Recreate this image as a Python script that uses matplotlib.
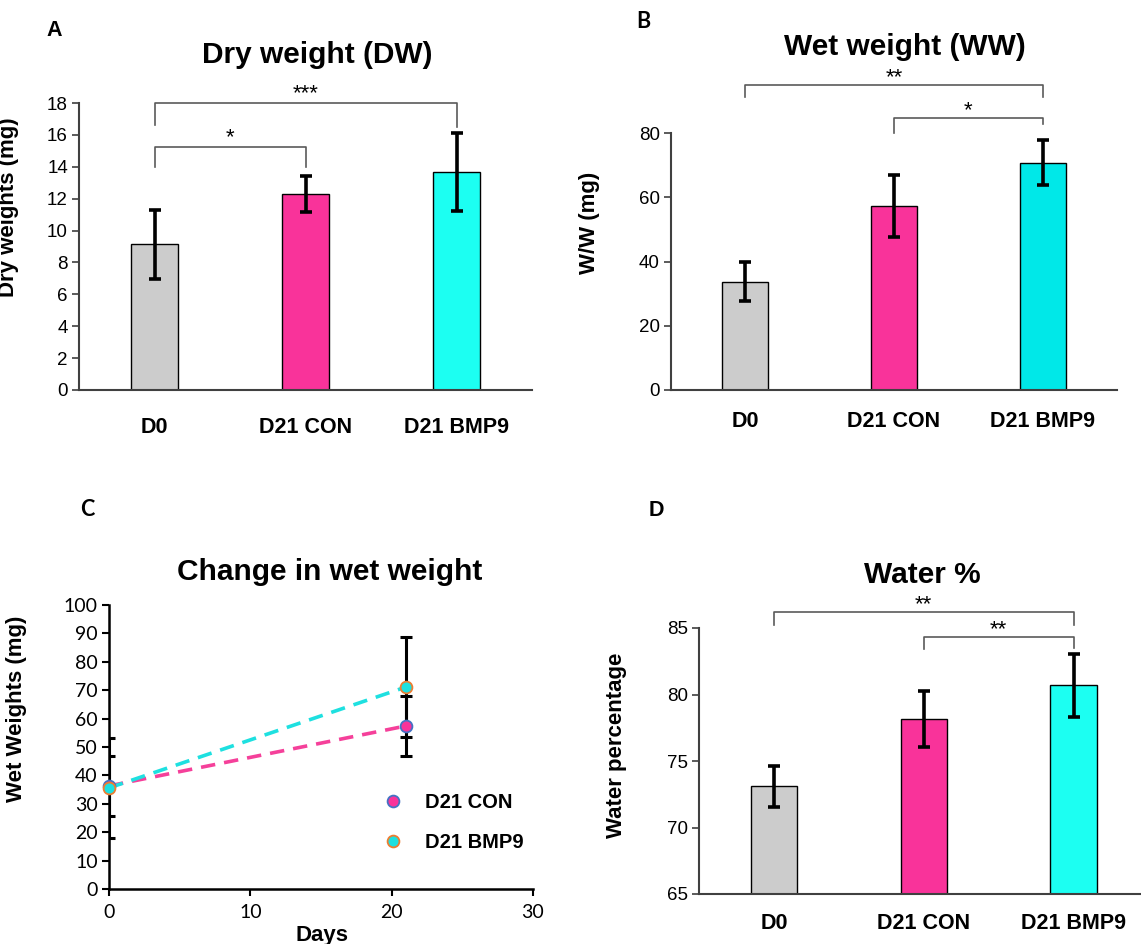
import numpy as np
import matplotlib.pyplot as plt
from matplotlib.lines import Line2D

plt.rcParams['font.family'] = ['Liberation Sans', 'DejaVu Sans']

# datos
groups = ["D0", "D21 CON", "D21 BMP9"]
bar_colors = ["#cccccc", "#f9339a", "#1cfff2"]
bar_colors_b = ["#cccccc", "#f9339a", "#00e8e8"]

dry_mean = [9.14, 12.31, 13.66]
dry_err = [2.18, 1.14, 2.45]

wet_mean = [33.7, 57.3, 70.7]
wet_err = [6.0, 9.7, 7.0]

water_mean = [73.09, 78.16, 80.68]
water_err = [1.54, 2.12, 2.36]

days = [0, 21]
con_wet = [36.3, 57.4]
con_sd = [10.5, 10.5]
bmp_wet = [35.6, 71.1]
bmp_sd = [17.6, 17.6]

W, H = 1141, 944
fig = plt.figure(figsize=(W / 100, H / 100), dpi=100)


def add_ax(left, right, top, bottom):
    return fig.add_axes([left / W, 1 - bottom / H, (right - left) / W, (bottom - top) / H])


def fx(px):
    return px / W


def fy(py):
    return 1 - py / H


def bar_panel(ax, mean, err, colors, ylim, yticks, pad):
    x = np.arange(len(groups))
    ax.bar(x, mean, width=0.31, color=colors, edgecolor="black", linewidth=1.0, zorder=2)
    ax.errorbar(x, mean, yerr=err, fmt="none", ecolor="black", elinewidth=2.6,
                capsize=4.2, capthick=2.6, zorder=3)
    ax.set_xlim(-0.5, 2.5)
    ax.set_ylim(*ylim)
    ax.set_yticks(yticks)
    ax.set_xticks(x)
    ax.set_xticklabels(groups, fontsize=15.5, fontweight="bold")
    ax.tick_params(axis="x", length=0, pad=pad)
    ax.tick_params(axis="y", labelsize=13.5, length=5, width=1.2, color="#404040", pad=3)
    for s in ["top", "right"]:
        ax.spines[s].set_visible(False)
    for s in ["left", "bottom"]:
        ax.spines[s].set_color("#404040")
        ax.spines[s].set_linewidth(1.5)


def bracket(ax, x1, x2, ytop, yl1, yl2, txt, ytxt):
    ax.plot([x1, x1, x2, x2], [yl1, ytop, ytop, yl2], color="#5a5a5a", lw=1.2,
            clip_on=False, zorder=4)
    ax.text((x1 + x2) / 2, ytxt, txt, ha="center", va="center", fontsize=16,
            clip_on=False)


# A - peso seco
axA = add_ax(79, 532, 103, 390)
bar_panel(axA, dry_mean, dry_err, bar_colors, (0, 18), range(0, 19, 2), 19.5)
bracket(axA, 0, 2, 18, 16.6, 16.5, "***", 18.6)
bracket(axA, 0, 1, 15.25, 14.0, 14.0, "*", 15.85)
axA.set_ylabel("Dry weights (mg)", fontsize=16, fontweight="bold")
axA.yaxis.set_label_coords(fx(19), fy(207), transform=fig.transFigure)

# B - peso humedo
axB = add_ax(671, 1117, 133, 390)
bar_panel(axB, wet_mean, wet_err, bar_colors_b, (0, 80), range(0, 81, 20), 15)
bracket(axB, 0, 2, 94.9, 91.2, 91.2, "**", 97.3)
bracket(axB, 1, 2, 84.7, 80.0, 82.8, "*", 86.8)
axB.set_ylabel("W/W (mg)", fontsize=16, fontweight="bold")
axB.yaxis.set_label_coords(fx(600), fy(223), transform=fig.transFigure)

# D - porcentaje de agua
axD = add_ax(699, 1141, 628, 894)
bar_panel(axD, water_mean, water_err, bar_colors, (65, 85), range(65, 86, 5), 14)
axD.set_xlim(-0.5, 2.45)
bracket(axD, 0, 2, 86.17, 85.25, 85.25, "**", 86.75)
bracket(axD, 1, 2, 84.3, 83.4, 83.5, "**", 84.85)
axD.set_ylabel("Water percentage", fontsize=16, fontweight="bold")
axD.yaxis.set_label_coords(fx(627), fy(745), transform=fig.transFigure)

# C - cambio en peso humedo
axC = add_ax(109, 533, 605, 889)
axC.errorbar(days, bmp_wet, yerr=bmp_sd, fmt="none", ecolor="black", elinewidth=2.2,
             capsize=4.2, capthick=2.2, zorder=2)
axC.errorbar(days, con_wet, yerr=con_sd, fmt="none", ecolor="black", elinewidth=2.2,
             capsize=4.2, capthick=2.2, zorder=2)
axC.plot(days, con_wet, ls=(0, (4, 2.5)), color="#f5409a", lw=2.6, zorder=3)
axC.plot(days, bmp_wet, ls=(0, (4, 2.5)), color="#1ee0e0", lw=2.6, zorder=3)
axC.plot(days, con_wet, ls="none", marker="o", ms=8.5, mfc="#f9339a", mec="#4472c4",
         mew=1.3, zorder=4, clip_on=False)
axC.plot(days, bmp_wet, ls="none", marker="o", ms=8.5, mfc="#1ee0e0", mec="#ed7d31",
         mew=1.3, zorder=5, clip_on=False)
axC.set_xlim(0, 30)
axC.set_ylim(0, 100)
axC.set_xticks(range(0, 31, 10))
axC.set_yticks(range(0, 101, 10))
for lab in axC.get_xticklabels() + axC.get_yticklabels():
    lab.set_fontfamily("Lato")
axC.tick_params(labelsize=14, length=5, width=1.5, color="black", pad=3)
axC.tick_params(axis="x", pad=6)
for s in ["top", "right"]:
    axC.spines[s].set_visible(False)
for s in ["left", "bottom"]:
    axC.spines[s].set_linewidth(1.8)
handles = [
    Line2D([], [], ls="none", marker="o", ms=8.5, mfc="#f9339a", mec="#4472c4", mew=1.3),
    Line2D([], [], ls="none", marker="o", ms=8.5, mfc="#1ee0e0", mec="#ed7d31", mew=1.3),
]
axC.legend(handles, ["D21 CON", "D21 BMP9"], loc="center left",
           bbox_to_anchor=(0.58, 0.234), frameon=False, handletextpad=0.6,
           labelspacing=1.0, prop={"weight": "bold", "size": 14.5})
axC.set_ylabel("Wet Weights (mg)", fontsize=16, fontweight="bold")
axC.yaxis.set_label_coords(fx(27), fy(709), transform=fig.transFigure)
axC.set_xlabel("Days", fontsize=16, fontweight="bold")
axC.xaxis.set_label_coords(fx(322), fy(935), transform=fig.transFigure)
axC.xaxis.label.set_va("center")

# titulos
fig.text(fx(317), fy(55), "Dry weight (DW)", ha="center", va="center", fontsize=21.5, fontweight="bold")
fig.text(fx(905), fy(47), "Wet weight (WW)", ha="center", va="center", fontsize=21.5, fontweight="bold")
fig.text(fx(330), fy(572), "Change in wet weight", ha="center", va="center", fontsize=21.5, fontweight="bold")
fig.text(fx(922), fy(575), "Water %", ha="center", va="center", fontsize=21.5, fontweight="bold")

# letras de panel
fig.text(fx(54), fy(30), "A", ha="center", va="center", fontsize=15.5, fontweight="bold")
fig.text(fx(643), fy(22), "B", ha="center", va="center", fontsize=15.5, fontweight="bold", family="Lato")
fig.text(fx(87), fy(510), "C", ha="center", va="center", fontsize=15.5, fontweight="bold", family="Lato")
fig.text(fx(656), fy(510), "D", ha="center", va="center", fontsize=15.5, fontweight="bold")

fig.savefig("out.png", dpi=100)
